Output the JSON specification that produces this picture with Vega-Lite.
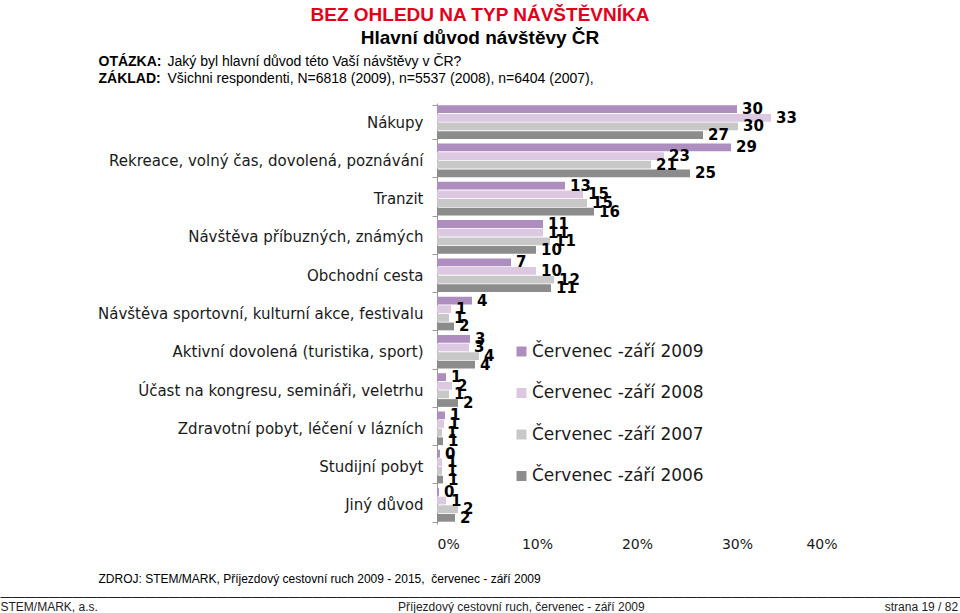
{
  "$schema": "https://vega.github.io/schema/vega-lite/v6.json",
  "width": 400,
  "height": 421,
  "autosize": {"type": "none"},
  "padding": {"left": 437, "top": 103, "right": 123, "bottom": 89},
  "background": "white",
  "config": {"view": {"stroke": null}, "axis": {"grid": false}},
  "title": {
    "text": "BEZ OHLEDU NA TYP NÁVŠTĚVNÍKA",
    "subtitle": "Hlavní důvod návštěvy ČR",
    "anchor": "middle",
    "frame": "group",
    "dx": -157,
    "offset": 6,
    "font": "Liberation Sans",
    "fontSize": 19,
    "fontWeight": "bold",
    "color": "#E2001A",
    "subtitleFont": "Liberation Sans",
    "subtitleFontSize": 19,
    "subtitleFontWeight": "bold",
    "subtitleColor": "#000000",
    "subtitlePadding": 4
  },
  "data": {
    "values": [
      {"duvod": "Nákupy", "obdobi": "Červenec -září 2009", "hodnota": 30.0, "popisek": "30"},
      {"duvod": "Nákupy", "obdobi": "Červenec -září 2008", "hodnota": 33.4, "popisek": "33"},
      {"duvod": "Nákupy", "obdobi": "Červenec -září 2007", "hodnota": 30.1, "popisek": "30"},
      {"duvod": "Nákupy", "obdobi": "Červenec -září 2006", "hodnota": 26.6, "popisek": "27"},
      {"duvod": "Rekreace, volný čas, dovolená, poznávání", "obdobi": "Červenec -září 2009", "hodnota": 29.4, "popisek": "29"},
      {"duvod": "Rekreace, volný čas, dovolená, poznávání", "obdobi": "Červenec -září 2008", "hodnota": 22.7, "popisek": "23"},
      {"duvod": "Rekreace, volný čas, dovolená, poznávání", "obdobi": "Červenec -září 2007", "hodnota": 21.4, "popisek": "21"},
      {"duvod": "Rekreace, volný čas, dovolená, poznávání", "obdobi": "Červenec -září 2006", "hodnota": 25.3, "popisek": "25"},
      {"duvod": "Tranzit", "obdobi": "Červenec -září 2009", "hodnota": 12.8, "popisek": "13"},
      {"duvod": "Tranzit", "obdobi": "Červenec -září 2008", "hodnota": 14.6, "popisek": "15"},
      {"duvod": "Tranzit", "obdobi": "Červenec -září 2007", "hodnota": 15.0, "popisek": "15"},
      {"duvod": "Tranzit", "obdobi": "Červenec -září 2006", "hodnota": 15.7, "popisek": "16"},
      {"duvod": "Návštěva příbuzných, známých", "obdobi": "Červenec -září 2009", "hodnota": 10.6, "popisek": "11"},
      {"duvod": "Návštěva příbuzných, známých", "obdobi": "Červenec -září 2008", "hodnota": 10.6, "popisek": "11"},
      {"duvod": "Návštěva příbuzných, známých", "obdobi": "Červenec -září 2007", "hodnota": 11.3, "popisek": "11"},
      {"duvod": "Návštěva příbuzných, známých", "obdobi": "Červenec -září 2006", "hodnota": 9.9, "popisek": "10"},
      {"duvod": "Obchodní cesta", "obdobi": "Červenec -září 2009", "hodnota": 7.4, "popisek": "7"},
      {"duvod": "Obchodní cesta", "obdobi": "Červenec -září 2008", "hodnota": 9.9, "popisek": "10"},
      {"duvod": "Obchodní cesta", "obdobi": "Červenec -září 2007", "hodnota": 11.7, "popisek": "12"},
      {"duvod": "Obchodní cesta", "obdobi": "Červenec -září 2006", "hodnota": 11.4, "popisek": "11"},
      {"duvod": "Návštěva sportovní, kulturní akce, festivalu", "obdobi": "Červenec -září 2009", "hodnota": 3.5, "popisek": "4"},
      {"duvod": "Návštěva sportovní, kulturní akce, festivalu", "obdobi": "Červenec -září 2008", "hodnota": 1.4, "popisek": "1"},
      {"duvod": "Návštěva sportovní, kulturní akce, festivalu", "obdobi": "Červenec -září 2007", "hodnota": 1.2, "popisek": "1"},
      {"duvod": "Návštěva sportovní, kulturní akce, festivalu", "obdobi": "Červenec -září 2006", "hodnota": 1.7, "popisek": "2"},
      {"duvod": "Aktivní dovolená (turistika, sport)", "obdobi": "Červenec -září 2009", "hodnota": 3.3, "popisek": "3"},
      {"duvod": "Aktivní dovolená (turistika, sport)", "obdobi": "Červenec -září 2008", "hodnota": 3.2, "popisek": "3"},
      {"duvod": "Aktivní dovolená (turistika, sport)", "obdobi": "Červenec -září 2007", "hodnota": 4.2, "popisek": "4"},
      {"duvod": "Aktivní dovolená (turistika, sport)", "obdobi": "Červenec -září 2006", "hodnota": 3.8, "popisek": "4"},
      {"duvod": "Účast na kongresu, semináři, veletrhu", "obdobi": "Červenec -září 2009", "hodnota": 0.9, "popisek": "1"},
      {"duvod": "Účast na kongresu, semináři, veletrhu", "obdobi": "Červenec -září 2008", "hodnota": 1.5, "popisek": "2"},
      {"duvod": "Účast na kongresu, semináři, veletrhu", "obdobi": "Červenec -září 2007", "hodnota": 1.2, "popisek": "1"},
      {"duvod": "Účast na kongresu, semináři, veletrhu", "obdobi": "Červenec -září 2006", "hodnota": 2.1, "popisek": "2"},
      {"duvod": "Zdravotní pobyt, léčení v lázních", "obdobi": "Červenec -září 2009", "hodnota": 0.8, "popisek": "1"},
      {"duvod": "Zdravotní pobyt, léčení v lázních", "obdobi": "Červenec -září 2008", "hodnota": 0.7, "popisek": "1"},
      {"duvod": "Zdravotní pobyt, léčení v lázních", "obdobi": "Červenec -září 2007", "hodnota": 0.5, "popisek": "1"},
      {"duvod": "Zdravotní pobyt, léčení v lázních", "obdobi": "Červenec -září 2006", "hodnota": 0.6, "popisek": "1"},
      {"duvod": "Studijní pobyt", "obdobi": "Červenec -září 2009", "hodnota": 0.3, "popisek": "0"},
      {"duvod": "Studijní pobyt", "obdobi": "Červenec -září 2008", "hodnota": 0.5, "popisek": "1"},
      {"duvod": "Studijní pobyt", "obdobi": "Červenec -září 2007", "hodnota": 0.5, "popisek": "1"},
      {"duvod": "Studijní pobyt", "obdobi": "Červenec -září 2006", "hodnota": 0.6, "popisek": "1"},
      {"duvod": "Jiný důvod", "obdobi": "Červenec -září 2009", "hodnota": 0.2, "popisek": "0"},
      {"duvod": "Jiný důvod", "obdobi": "Červenec -září 2008", "hodnota": 0.9, "popisek": "1"},
      {"duvod": "Jiný důvod", "obdobi": "Červenec -září 2007", "hodnota": 2.1, "popisek": "2"},
      {"duvod": "Jiný důvod", "obdobi": "Červenec -září 2006", "hodnota": 1.8, "popisek": "2"}
    ]
  },
  "layer": [
    {
      "mark": {"type": "bar"},
      "encoding": {
        "y": {
          "field": "duvod", "type": "nominal", "sort": null,
          "scale": {"paddingInner": 0.12, "paddingOuter": 0.06},
          "axis": {
            "orient": "left",
            "title": ["OTÁZKA:", "ZÁKLAD:"],
            "titleAngle": 0, "titleX": -339, "titleY": -49,
            "titleAlign": "left", "titleBaseline": "top",
            "titleFont": "Liberation Sans", "titleFontSize": 14, "titleFontWeight": "bold",
            "titleColor": "#000000", "titleLineHeight": 17,
            "labelFont": "DejaVu Sans", "labelFontSize": 15, "labelColor": "#1a1a1a",
            "labelPadding": 9, "labelLimit": 600,
            "ticks": true, "tickBand": "extent", "tickSize": 5, "tickColor": "#9a9a9a",
            "domain": true, "domainColor": "#9a9a9a"
          }
        },
        "yOffset": {"field": "obdobi", "type": "nominal", "sort": null, "scale": {"paddingInner": 0.1}},
        "x": {
          "field": "hodnota", "type": "quantitative",
          "scale": {"domain": [0, 40]},
          "axis": {
            "orient": "bottom",
            "values": [0, 10, 20, 30, 40],
            "labelExpr": "datum.value + '%'",
            "domain": false, "ticks": false,
            "labelPadding": 13, "labelFont": "DejaVu Sans", "labelFontSize": 14, "labelColor": "#1a1a1a",
            "title": "ZDROJ: STEM/MARK, Příjezdový cestovní ruch 2009 - 2015,\u00a0 červenec - září 2009",
            "titleX": -339, "titleY": 58, "titleAlign": "left", "titleBaseline": "alphabetic",
            "titleFont": "Liberation Sans", "titleFontSize": 12, "titleFontWeight": "normal", "titleColor": "#000000",
            "titleLimit": 3000
          }
        },
        "color": {
          "field": "obdobi", "type": "nominal",
          "scale": {
            "domain": ["Červenec -září 2009", "Červenec -září 2008", "Červenec -září 2007", "Červenec -září 2006"],
            "range": ["#AE8EBF", "#DCC8E0", "#C8C8C8", "#8C8C8C"]
          },
          "legend": {
            "orient": "none", "legendX": 76, "legendY": 240, "title": null,
            "symbolType": "square", "symbolSize": 100, "symbolStrokeWidth": 0, "symbolOpacity": 1,
            "labelFont": "DejaVu Sans", "labelFontSize": 17, "labelColor": "#1a1a1a", "labelLimit": 400,
            "labelOffset": 2, "rowPadding": 23.5, "padding": 0
          }
        }
      }
    },
    {
      "mark": {"type": "text", "align": "left", "baseline": "middle", "dx": 5, "font": "DejaVu Sans", "fontSize": 15, "fontWeight": "bold", "color": "#000000"},
      "encoding": {
        "y": {
          "field": "duvod", "type": "nominal", "sort": null,
          "axis": {
            "orient": "right", "labels": false, "ticks": false, "domain": false,
            "title": ["\u2014\u2014\u2014\u2014\u2014\u2014\u2014\u2014\u2014\u2014\u2014\u2014\u2014\u2014\u2014\u2014\u2014\u2014\u2014\u2014\u2014\u2014\u2014\u2014\u2014\u2014\u2014\u2014\u2014\u2014\u2014\u2014\u2014\u2014\u2014\u2014\u2014\u2014\u2014\u2014\u2014\u2014\u2014\u2014\u2014\u2014\u2014\u2014\u2014\u2014\u2014\u2014\u2014\u2014\u2014\u2014\u2014\u2014\u2014\u2014\u2014\u2014\u2014\u2014\u2014\u2014\u2014\u2014\u2014\u2014\u2014\u2014\u2014\u2014\u2014\u2014\u2014\u2014\u2014\u2014", "STEM/MARK, a.s.\u00a0\u00a0\u00a0\u00a0\u00a0\u00a0\u00a0\u00a0\u00a0\u00a0\u00a0\u00a0\u00a0\u00a0\u00a0\u00a0\u00a0\u00a0\u00a0\u00a0\u00a0\u00a0\u00a0\u00a0\u00a0\u00a0\u00a0\u00a0\u00a0\u00a0\u00a0\u00a0\u00a0\u00a0\u00a0\u00a0\u00a0\u00a0\u00a0\u00a0\u00a0\u00a0\u00a0\u00a0\u00a0\u00a0\u00a0\u00a0\u00a0\u00a0\u00a0\u00a0\u00a0\u00a0\u00a0\u00a0\u00a0\u00a0\u00a0\u00a0\u00a0\u00a0\u00a0\u00a0\u00a0\u00a0\u00a0\u00a0\u00a0\u00a0\u00a0\u00a0\u00a0\u00a0\u00a0\u00a0\u00a0\u00a0\u00a0\u00a0\u00a0\u00a0\u00a0\u00a0\u00a0\u00a0\u00a0\u00a0\u00a0\u00a0Příjezdový cestovní ruch, červenec - září 2009\u00a0\u00a0\u00a0\u00a0\u00a0\u00a0\u00a0\u00a0\u00a0\u00a0\u00a0\u00a0\u00a0\u00a0\u00a0\u00a0\u00a0\u00a0\u00a0\u00a0\u00a0\u00a0\u00a0\u00a0\u00a0\u00a0\u00a0\u00a0\u00a0\u00a0\u00a0\u00a0\u00a0\u00a0\u00a0\u00a0\u00a0\u00a0\u00a0\u00a0\u00a0\u00a0\u00a0\u00a0\u00a0\u00a0\u00a0\u00a0\u00a0\u00a0\u00a0\u00a0\u00a0\u00a0\u00a0\u00a0\u00a0\u00a0\u00a0\u00a0\u00a0\u00a0\u00a0\u00a0\u00a0\u00a0\u00a0\u00a0\u00a0\u00a0\u00a0\u00a0strana 19 / 82"],
            "titleAngle": 0, "titleX": -837, "titleY": 497,
            "titleAlign": "left", "titleBaseline": "alphabetic",
            "titleFont": "Liberation Sans", "titleFontSize": 12, "titleFontWeight": "normal",
            "titleColor": "#222222", "titleLineHeight": 10, "titleLimit": 3000
          }
        },
        "yOffset": {"field": "obdobi", "type": "nominal", "sort": null},
        "x": {
          "field": "hodnota", "type": "quantitative",
          "axis": {
            "orient": "top", "labels": false, "ticks": false, "domain": false,
            "title": ["Jaký byl hlavní důvod této Vaší návštěvy v ČR?", "Všichni respondenti, N=6818 (2009), n=5537 (2008), n=6404 (2007),"],
            "titleX": -270, "titleY": -49, "titleAlign": "left", "titleBaseline": "top",
            "titleFont": "Liberation Sans", "titleFontSize": 14, "titleFontWeight": "normal",
            "titleColor": "#000000", "titleLineHeight": 17, "titleLimit": 3000
          }
        },
        "text": {"field": "popisek", "type": "nominal"}
      }
    }
  ],
  "resolve": {"axis": {"x": "independent", "y": "independent"}}
}
